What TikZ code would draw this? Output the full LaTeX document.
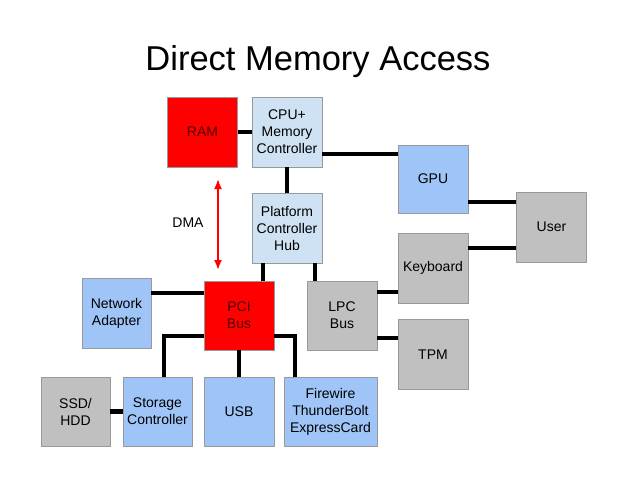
\documentclass[tikz,border=0pt]{standalone}
\usepackage{fontspec}
\setmainfont{Liberation Sans}
\usepackage{tikz}
\usetikzlibrary{arrows,arrows.meta}

\definecolor{ramred}{HTML}{FF0000}
\definecolor{hubblue}{HTML}{CFE2F3}
\definecolor{devblue}{HTML}{9FC5F8}
\definecolor{pergray}{HTML}{C0C0C0}
\definecolor{boxline}{HTML}{999999}

\tikzset{
  box/.style={draw=boxline, line width=0.9pt, minimum width=70pt, minimum height=70pt,
    inner sep=1pt, align=center, font=\fontsize{14}{17}\selectfont},
  rambox/.style={box, fill=ramred, text=red!30!black},
  hubbox/.style={box, fill=hubblue},
  devbox/.style={box, fill=devblue},
  perbox/.style={box, fill=pergray},
  bus/.style={line width=4.5pt}
}

\begin{document}
\begin{tikzpicture}[x=1pt,y=-1pt]
    \useasboundingbox (0,0) rectangle (638,479);

    \node[anchor=base] (title) at (318,70) {\fontsize{34.5}{40}\selectfont Direct Memory Access};

    \node[rambox] (ram) at (202.5,132) {RAM};
    \node[hubbox] (cpu) at (287,132) {CPU+\\Memory\\Controller};
    \node[hubbox] (pch) at (287,228) {Platform\\Controller\\Hub};
    \node[devbox, minimum height=68pt] (gpu) at (433,179) {GPU};
    \node[perbox] (user) at (551.5,227) {User};
    \node[perbox] (keyb) at (433,268) {Keyboard};
    \node[perbox, minimum height=69pt] (lpc) at (342,315.5) {LPC\\Bus};
    \node[perbox] (tpm) at (433,354.5) {TPM};
    \node[rambox, minimum height=69pt] (pci) at (239,315.5) {PCI\\Bus};
    \node[devbox, minimum width=69pt] (net) at (116.5,313) {Network\\Adapter};
    \node[perbox, minimum width=69pt, minimum height=69pt] (ssd) at (75.5,411.5) {SSD/\\HDD};
    \node[devbox, minimum width=69pt, minimum height=69pt] (stor) at (157.5,411.5) {Storage\\Controller};
    \node[devbox, minimum height=69pt] (usb) at (239,411.5) {USB};
    \node[devbox, minimum width=93pt, minimum height=69pt] (fire) at (330.5,411.5) {Firewire\\ThunderBolt\\ExpressCard};

    \draw[bus] (ram.east) -- (cpu.west);
    \draw[bus] (cpu.south) -- (pch.north);
    \draw[bus] ([yshift=-22pt]cpu.east) -- ([yshift=-22pt]cpu.east -| gpu.west);
    \draw[bus] ([yshift=-23pt]gpu.east) -- ([yshift=-23pt]gpu.east -| user.west);
    \draw[bus] ([yshift=20pt]keyb.east) -- ([yshift=20pt]keyb.east -| user.west);
    \draw[bus] ([xshift=-24pt]pch.south) -- ([xshift=-24pt]pch.south |- pci.north);
    \draw[bus] ([xshift=28pt]pch.south) -- ([xshift=28pt]pch.south |- lpc.north);
    \draw[bus] ([yshift=23.5pt]lpc.east) -- ([yshift=23.5pt]lpc.east -| keyb.west);
    \draw[bus] ([yshift=-22.5pt]lpc.east) -- ([yshift=-22.5pt]lpc.east -| tpm.west);
    \draw[bus] ([yshift=20pt]net.east) -- ([yshift=20pt]net.east -| pci.west);
    \draw[bus] ([yshift=-20.5pt]pci.west) -| ([xshift=6.5pt]stor.north);
    \draw[bus] (pci.south) -- (usb.north);
    \draw[bus] ([yshift=-20.5pt]pci.east) -| ([xshift=-35.5pt]fire.north);
    \draw[bus] (ssd.east) -- (stor.west);

    % DMA transfer
    \coordinate (dmatop) at (218,179);
    \coordinate (dmabot) at (218,270);
    \draw[ramred, line width=1.8pt, {Latex[length=10pt,width=8pt]}-{Latex[length=10pt,width=8pt]}] (dmatop) -- (dmabot);
    \node[font=\fontsize{14}{17}\selectfont] (dma) at (188,223) {DMA};
\end{tikzpicture}
\end{document}
